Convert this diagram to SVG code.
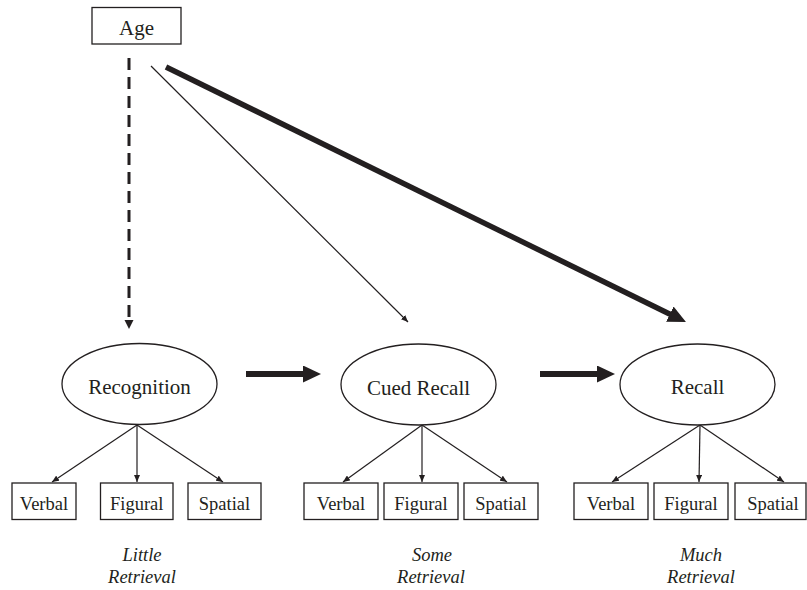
<svg xmlns="http://www.w3.org/2000/svg" width="807" height="590" viewBox="0 0 807 590" font-family="'Liberation Serif', 'DejaVu Serif', serif">
<style>
.box{fill:#fff;stroke:#231f20;stroke-width:1.3}
.ell{fill:#fff;stroke:#231f20;stroke-width:1.3}
text{font-family:'Liberation Serif','DejaVu Serif',serif;fill:#231f20;text-anchor:middle}
.big{font-size:21px}
.small{font-size:18.5px}
.it{font-size:18.5px;font-style:italic}
.thin{stroke:#231f20;stroke-width:1.2;fill:none}
</style>
<defs>
<marker id="hSmall" markerUnits="userSpaceOnUse" markerWidth="8" markerHeight="6" refX="7" refY="3" orient="auto">
<path d="M0,0 L7,3 L0,6 z" fill="#231f20"/>
</marker>
<marker id="hDash" markerUnits="userSpaceOnUse" markerWidth="10" markerHeight="10" refX="1" refY="4.5" orient="auto">
<path d="M0,0 L9,4.5 L0,9 z" fill="#231f20"/>
</marker>
<marker id="hBig" markerUnits="userSpaceOnUse" markerWidth="20" markerHeight="18" refX="2" refY="8.5" orient="auto">
<path d="M0,0 L18,8.5 L0,17 z" fill="#231f20"/>
</marker>
</defs>

<g id="connectors">
<line x1="129" y1="58" x2="129" y2="321" stroke="#231f20" stroke-width="3" stroke-dasharray="12 7" marker-end="url(#hDash)"/>
<line x1="151" y1="66" x2="408" y2="322" class="thin" stroke-width="1" marker-end="url(#hSmall)"/>
<line x1="166" y1="67" x2="671.6" y2="315" stroke="#231f20" stroke-width="5.5" marker-end="url(#hBig)"/>
<line x1="246" y1="374" x2="305" y2="374" stroke="#231f20" stroke-width="6" marker-end="url(#hBig)"/>
<line x1="540" y1="374" x2="599" y2="374" stroke="#231f20" stroke-width="6" marker-end="url(#hBig)"/>
<line x1="137" y1="425" x2="52" y2="482" class="thin" marker-end="url(#hSmall)"/>
<line x1="137" y1="425" x2="137" y2="482" class="thin" marker-end="url(#hSmall)"/>
<line x1="137" y1="425" x2="223" y2="482" class="thin" marker-end="url(#hSmall)"/>
<line x1="422" y1="425" x2="343" y2="482" class="thin" marker-end="url(#hSmall)"/>
<line x1="422" y1="425" x2="422" y2="482" class="thin" marker-end="url(#hSmall)"/>
<line x1="422" y1="425" x2="507" y2="482" class="thin" marker-end="url(#hSmall)"/>
<line x1="700" y1="425" x2="612" y2="482" class="thin" marker-end="url(#hSmall)"/>
<line x1="700" y1="425" x2="699" y2="482" class="thin" marker-end="url(#hSmall)"/>
<line x1="700" y1="425" x2="784" y2="482" class="thin" marker-end="url(#hSmall)"/>
</g>

<g id="age">
<rect class="box" x="92" y="7.5" width="89" height="36.5"/>
<text class="big" x="136.5" y="35">Age</text>
</g>

<g id="recognition">
<ellipse class="ell" cx="139.5" cy="384" rx="77.5" ry="40.5"/>
<text class="big" x="139.5" y="394">Recognition</text>
</g>
<g id="cued-recall">
<ellipse class="ell" cx="418.5" cy="384.5" rx="77.5" ry="40.5"/>
<text class="big" x="418.5" y="395">Cued Recall</text>
</g>
<g id="recall">
<ellipse class="ell" cx="697.5" cy="384.5" rx="77.5" ry="40.5"/>
<text class="big" x="697.5" y="394">Recall</text>
</g>

<g id="verbal-1"><rect class="box" x="12" y="483" width="64" height="36.5"/><text class="small" x="44" y="510">Verbal</text></g>
<g id="figural-1"><rect class="box" x="100.5" y="483" width="72.5" height="36.5"/><text class="small" x="136.75" y="510">Figural</text></g>
<g id="spatial-1"><rect class="box" x="188" y="483" width="73" height="36.5"/><text class="small" x="224.5" y="510">Spatial</text></g>

<g id="verbal-2"><rect class="box" x="304" y="483" width="74" height="36.5"/><text class="small" x="341" y="510">Verbal</text></g>
<g id="figural-2"><rect class="box" x="384" y="483" width="74" height="36.5"/><text class="small" x="421" y="510">Figural</text></g>
<g id="spatial-2"><rect class="box" x="464" y="483" width="74" height="36.5"/><text class="small" x="501" y="510">Spatial</text></g>

<g id="verbal-3"><rect class="box" x="574" y="483" width="74" height="36.5"/><text class="small" x="611" y="510">Verbal</text></g>
<g id="figural-3"><rect class="box" x="654" y="483" width="74" height="36.5"/><text class="small" x="691" y="510">Figural</text></g>
<g id="spatial-3"><rect class="box" x="735" y="483" width="71" height="36.5"/><text class="small" x="773" y="510">Spatial</text></g>

<g id="label-1"><text class="it" x="142" y="561">Little</text><text class="it" x="142" y="583">Retrieval</text></g>
<g id="label-2"><text class="it" x="432" y="561">Some</text><text class="it" x="431" y="583">Retrieval</text></g>
<g id="label-3"><text class="it" x="701" y="561">Much</text><text class="it" x="701" y="583">Retrieval</text></g>
</svg>
